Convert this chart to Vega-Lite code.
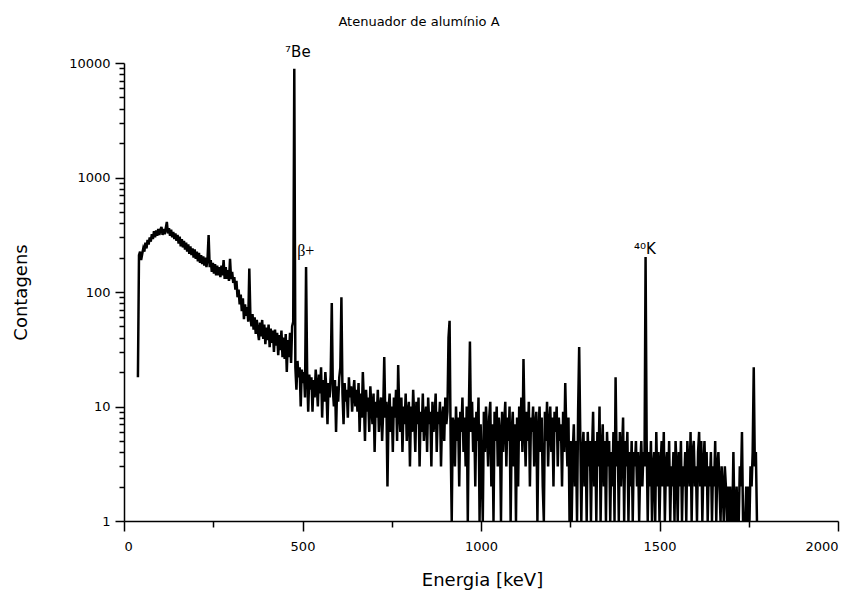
{
"$schema":"https://vega.github.io/schema/vega-lite/v6.json",
"width":714,"height":458,
"autosize":{"type":"none"},
"padding":{"left":124,"top":63,"right":24,"bottom":78},
"background":"white",
"title":{"text":"Atenuador de alumínio A","anchor":"middle","dx":-62,"offset":16,"fontSize":13,"fontWeight":"normal","font":"DejaVu Sans","color":"black"},
"config":{
"view":{"stroke":null},
"axis":{"grid":false,"domainColor":"black","domainWidth":1.5,"tickColor":"black","tickWidth":1.5,"labelFont":"DejaVu Sans","labelFontSize":13,"labelColor":"black","labelOverlap":false,"titleFont":"DejaVu Sans","titleFontSize":18,"titleFontWeight":"normal","titleColor":"black"}
},
"layer":[
{
"data":{"values":[
{"e":39,"c":18},{"e":42,"c":210},{"e":45,"c":225},{"e":48,"c":190},{"e":51,"c":215},{"e":54,"c":240},{"e":57,"c":225},{"e":60,"c":270},{"e":63,"c":240},{"e":66,"c":285},{"e":69,"c":260},{"e":72,"c":300},{"e":75,"c":275},{"e":78,"c":320},{"e":81,"c":290},{"e":84,"c":340},{"e":87,"c":300},{"e":90,"c":345},{"e":93,"c":310},{"e":96,"c":355},{"e":99,"c":315},{"e":102,"c":350},{"e":105,"c":370},{"e":108,"c":315},{"e":111,"c":355},{"e":114,"c":320},{"e":117,"c":360},{"e":120,"c":410},
{"e":123,"c":325},{"e":126,"c":360},{"e":129,"c":310},{"e":132,"c":350},{"e":135,"c":300},{"e":138,"c":335},{"e":141,"c":290},{"e":144,"c":325},{"e":147,"c":280},{"e":150,"c":315},{"e":153,"c":265},{"e":156,"c":305},{"e":159,"c":250},{"e":162,"c":290},{"e":165,"c":245},{"e":168,"c":280},{"e":171,"c":235},{"e":174,"c":270},{"e":177,"c":225},{"e":180,"c":260},{"e":183,"c":215},{"e":186,"c":250},{"e":189,"c":210},{"e":192,"c":240},{"e":195,"c":200},{"e":198,"c":235},{"e":201,"c":195},{"e":204,"c":225},{"e":207,"c":185},{"e":210,"c":220},{"e":213,"c":180},{"e":216,"c":210},{"e":219,"c":175},{"e":222,"c":205},{"e":225,"c":170},{"e":228,"c":200},{"e":231,"c":165},{"e":234,"c":195},{"e":237,"c":315},{"e":240,"c":165},
{"e":243,"c":190},{"e":246,"c":150},{"e":249,"c":180},{"e":252,"c":145},{"e":255,"c":175},{"e":258,"c":140},{"e":261,"c":170},{"e":264,"c":140},{"e":267,"c":165},{"e":270,"c":135},{"e":273,"c":170},{"e":276,"c":140},{"e":279,"c":190},{"e":282,"c":130},{"e":285,"c":165},{"e":288,"c":130},{"e":291,"c":155},{"e":294,"c":125},{"e":297,"c":195},{"e":300,"c":130},{"e":303,"c":150},{"e":306,"c":120},{"e":309,"c":135},{"e":312,"c":105},{"e":315,"c":125},{"e":318,"c":90},{"e":321,"c":105},{"e":324,"c":78},{"e":327,"c":95},{"e":330,"c":68},{"e":333,"c":88},{"e":336,"c":58},{"e":339,"c":78},{"e":342,"c":62},{"e":345,"c":74},{"e":348,"c":55},{"e":351,"c":160},{"e":354,"c":62},{"e":357,"c":50},
{"e":360,"c":64},{"e":363,"c":47},{"e":366,"c":60},{"e":369,"c":43},{"e":372,"c":57},{"e":375,"c":45},{"e":378,"c":38},{"e":381,"c":54},{"e":384,"c":41},{"e":387,"c":57},{"e":390,"c":39},{"e":393,"c":52},{"e":396,"c":35},{"e":399,"c":49},{"e":402,"c":38},{"e":405,"c":52},{"e":408,"c":33},{"e":411,"c":48},{"e":414,"c":36},{"e":417,"c":46},{"e":420,"c":30},{"e":423,"c":47},{"e":426,"c":34},{"e":429,"c":44},{"e":432,"c":28},{"e":435,"c":42},{"e":438,"c":31},{"e":441,"c":46},{"e":444,"c":27},{"e":447,"c":40},{"e":450,"c":26},{"e":453,"c":43},{"e":456,"c":20},{"e":459,"c":38},{"e":462,"c":27},{"e":465,"c":44},{"e":468,"c":24},{"e":471,"c":50},{"e":474,"c":55},{"e":477,"c":8900},{"e":480,"c":22},
{"e":483,"c":14},{"e":486,"c":25},{"e":489,"c":18},{"e":492,"c":22},{"e":495,"c":10},{"e":498,"c":21},{"e":501,"c":16},{"e":504,"c":20},{"e":507,"c":12},{"e":510,"c":165},{"e":513,"c":20},{"e":516,"c":9},{"e":519,"c":19},{"e":522,"c":14},{"e":525,"c":18},{"e":528,"c":9},{"e":531,"c":17},{"e":534,"c":12},{"e":537,"c":21},{"e":540,"c":15},{"e":543,"c":10},{"e":546,"c":19},{"e":549,"c":13},{"e":552,"c":22},{"e":555,"c":8},{"e":558,"c":17},{"e":561,"c":11},{"e":564,"c":20},{"e":567,"c":14},{"e":570,"c":7},{"e":573,"c":16},{"e":576,"c":12},{"e":579,"c":19},{"e":582,"c":80},{"e":585,"c":14},{"e":588,"c":10},{"e":591,"c":17},{"e":594,"c":6},{"e":597,"c":15},{"e":600,"c":11},{"e":603,"c":18},{"e":606,"c":22},{"e":609,"c":90},{"e":612,"c":13},{"e":615,"c":7},{"e":618,"c":16},{"e":621,"c":11},{"e":624,"c":14},{"e":627,"c":8},{"e":630,"c":18},{"e":633,"c":12},{"e":636,"c":15},{"e":639,"c":9},{"e":642,"c":13},{"e":645,"c":17},{"e":648,"c":10},{"e":651,"c":14},
{"e":654,"c":9},{"e":657,"c":16},{"e":660,"c":6},{"e":663,"c":13},{"e":666,"c":8},{"e":669,"c":20},{"e":672,"c":11},{"e":675,"c":5},{"e":678,"c":14},{"e":681,"c":9},{"e":684,"c":12},{"e":687,"c":6},{"e":690,"c":15},{"e":693,"c":10},{"e":696,"c":7},{"e":699,"c":13},{"e":702,"c":4},{"e":705,"c":11},{"e":708,"c":8},{"e":711,"c":14},{"e":714,"c":6},{"e":717,"c":10},{"e":720,"c":12},{"e":723,"c":5},{"e":726,"c":9},{"e":729,"c":27},{"e":732,"c":8},{"e":735,"c":11},{"e":738,"c":2},{"e":741,"c":9},{"e":744,"c":13},{"e":747,"c":6},{"e":750,"c":10},{"e":753,"c":4},{"e":756,"c":12},{"e":759,"c":8},{"e":762,"c":14},{"e":765,"c":5},{"e":768,"c":23},{"e":771,"c":9},{"e":774,"c":6},{"e":777,"c":12},{"e":780,"c":4},{"e":783,"c":10},{"e":786,"c":7},{"e":789,"c":13},{"e":792,"c":5},{"e":795,"c":9},{"e":798,"c":11},{"e":801,"c":3},{"e":804,"c":10},{"e":807,"c":6},{"e":810,"c":14},{"e":813,"c":8},{"e":816,"c":4},{"e":819,"c":11},{"e":822,"c":7},{"e":825,"c":12},{"e":828,"c":3},{"e":831,"c":9},{"e":834,"c":6},{"e":837,"c":13},{"e":840,"c":5},{"e":843,"c":8},{"e":846,"c":10},{"e":849,"c":4},{"e":852,"c":12},{"e":855,"c":7},{"e":858,"c":9},{"e":861,"c":3},{"e":864,"c":11},{"e":867,"c":6},{"e":870,"c":8},{"e":873,"c":13},{"e":876,"c":4},{"e":879,"c":9},{"e":882,"c":7},{"e":885,"c":11},{"e":888,"c":3},{"e":891,"c":8},{"e":894,"c":10},{"e":897,"c":5},{"e":900,"c":12},{"e":903,"c":7},{"e":906,"c":9},{"e":909,"c":40},{"e":912,"c":56},{"e":915,"c":5},{"e":918,"c":1},{"e":921,"c":8},
{"e":924,"c":7},{"e":927,"c":3},{"e":930,"c":10},{"e":933,"c":5},{"e":936,"c":8},{"e":939,"c":2},{"e":942,"c":9},{"e":945,"c":6},{"e":948,"c":12},{"e":951,"c":4},{"e":954,"c":8},{"e":957,"c":3},{"e":960,"c":10},{"e":963,"c":1},{"e":966,"c":9},{"e":969,"c":37},{"e":972,"c":6},{"e":975,"c":11},{"e":978,"c":4},{"e":981,"c":8},{"e":984,"c":2},{"e":987,"c":9},{"e":990,"c":5},{"e":993,"c":12},{"e":996,"c":1},{"e":999,"c":7},{"e":1002,"c":3},{"e":1005,"c":1},{"e":1008,"c":9},{"e":1011,"c":4},{"e":1014,"c":10},{"e":1017,"c":6},{"e":1020,"c":3},{"e":1023,"c":8},{"e":1026,"c":11},{"e":1029,"c":2},{"e":1032,"c":7},{"e":1035,"c":1},{"e":1038,"c":9},{"e":1041,"c":5},{"e":1044,"c":10},{"e":1047,"c":3},{"e":1050,"c":8},{"e":1053,"c":6},{"e":1056,"c":1},{"e":1059,"c":9},{"e":1062,"c":4},{"e":1065,"c":7},{"e":1068,"c":11},{"e":1071,"c":3},{"e":1074,"c":8},{"e":1077,"c":5},{"e":1080,"c":10},{"e":1083,"c":1},{"e":1086,"c":6},{"e":1089,"c":9},{"e":1092,"c":3},{"e":1095,"c":7},{"e":1098,"c":1},{"e":1101,"c":8},{"e":1104,"c":2},{"e":1107,"c":10},{"e":1110,"c":5},{"e":1113,"c":12},{"e":1116,"c":4},{"e":1119,"c":26},{"e":1122,"c":7},{"e":1125,"c":3},{"e":1128,"c":9},{"e":1131,"c":5},{"e":1134,"c":11},{"e":1137,"c":2},{"e":1140,"c":8},{"e":1143,"c":6},{"e":1146,"c":10},{"e":1149,"c":3},{"e":1152,"c":7},{"e":1155,"c":9},{"e":1158,"c":1},{"e":1161,"c":6},{"e":1164,"c":10},{"e":1167,"c":4},{"e":1170,"c":8},{"e":1173,"c":2},{"e":1176,"c":1},{"e":1179,"c":9},{"e":1182,"c":5},{"e":1185,"c":11},{"e":1188,"c":3},{"e":1191,"c":7},{"e":1194,"c":10},{"e":1197,"c":4},{"e":1200,"c":8},{"e":1203,"c":2},{"e":1206,"c":9},{"e":1209,"c":6},{"e":1212,"c":10},{"e":1215,"c":3},{"e":1218,"c":8},{"e":1221,"c":5},{"e":1224,"c":7},{"e":1227,"c":2},{"e":1230,"c":9},{"e":1233,"c":4},{"e":1236,"c":16},{"e":1239,"c":6},{"e":1242,"c":3},{"e":1245,"c":8},{"e":1248,"c":1},{"e":1251,"c":5},
{"e":1254,"c":1},{"e":1257,"c":4},{"e":1260,"c":7},{"e":1263,"c":2},{"e":1266,"c":5},{"e":1269,"c":1},{"e":1272,"c":9},{"e":1275,"c":33},{"e":1278,"c":6},{"e":1281,"c":1},{"e":1284,"c":4},{"e":1287,"c":6},{"e":1290,"c":2},{"e":1293,"c":5},{"e":1296,"c":1},{"e":1299,"c":6},{"e":1302,"c":3},{"e":1305,"c":5},{"e":1308,"c":1},{"e":1311,"c":4},{"e":1314,"c":9},{"e":1317,"c":2},{"e":1320,"c":5},{"e":1323,"c":1},{"e":1326,"c":6},{"e":1329,"c":3},{"e":1332,"c":10},{"e":1335,"c":1},{"e":1338,"c":4},{"e":1341,"c":7},{"e":1344,"c":2},{"e":1347,"c":5},{"e":1350,"c":1},{"e":1353,"c":6},{"e":1356,"c":3},{"e":1359,"c":5},{"e":1362,"c":1},{"e":1365,"c":4},{"e":1368,"c":2},{"e":1371,"c":6},{"e":1374,"c":1},{"e":1377,"c":18},{"e":1380,"c":3},{"e":1383,"c":5},{"e":1386,"c":1},{"e":1389,"c":6},{"e":1392,"c":2},{"e":1395,"c":4},{"e":1398,"c":8},{"e":1401,"c":1},{"e":1404,"c":5},{"e":1407,"c":3},{"e":1410,"c":6},{"e":1413,"c":1},{"e":1416,"c":4},{"e":1419,"c":2},{"e":1422,"c":5},{"e":1425,"c":1},{"e":1428,"c":4},{"e":1431,"c":3},{"e":1434,"c":5},{"e":1437,"c":2},{"e":1440,"c":4},{"e":1443,"c":1},{"e":1446,"c":3},{"e":1449,"c":5},{"e":1452,"c":2},{"e":1455,"c":4},{"e":1458,"c":3},{"e":1461,"c":202},{"e":1464,"c":5},{"e":1467,"c":1},
{"e":1470,"c":4},{"e":1473,"c":2},{"e":1476,"c":5},{"e":1479,"c":1},{"e":1482,"c":3},{"e":1485,"c":4},{"e":1488,"c":1},{"e":1491,"c":6},{"e":1494,"c":2},{"e":1497,"c":4},{"e":1500,"c":1},{"e":1503,"c":3},{"e":1506,"c":5},{"e":1509,"c":2},{"e":1512,"c":6},{"e":1515,"c":1},{"e":1518,"c":3},{"e":1521,"c":4},{"e":1524,"c":2},{"e":1527,"c":5},{"e":1530,"c":1},{"e":1533,"c":3},{"e":1536,"c":2},{"e":1539,"c":4},{"e":1542,"c":1},{"e":1545,"c":5},{"e":1548,"c":3},{"e":1551,"c":1},{"e":1554,"c":4},{"e":1557,"c":2},{"e":1560,"c":5},{"e":1563,"c":1},{"e":1566,"c":3},{"e":1569,"c":2},{"e":1572,"c":4},{"e":1575,"c":1},{"e":1578,"c":5},{"e":1581,"c":3},{"e":1584,"c":2},{"e":1587,"c":6},{"e":1590,"c":1},{"e":1593,"c":4},{"e":1596,"c":5},{"e":1599,"c":2},{"e":1602,"c":3},{"e":1605,"c":1},{"e":1608,"c":4},{"e":1611,"c":6},{"e":1614,"c":2},{"e":1617,"c":5},{"e":1620,"c":1},{"e":1623,"c":3},{"e":1626,"c":5},{"e":1629,"c":2},{"e":1632,"c":4},{"e":1635,"c":1},{"e":1638,"c":3},{"e":1641,"c":2},{"e":1644,"c":4},{"e":1647,"c":1},{"e":1650,"c":3},{"e":1653,"c":2},{"e":1656,"c":5},{"e":1659,"c":1},{"e":1662,"c":3},{"e":1665,"c":4},{"e":1668,"c":2},{"e":1671,"c":1},{"e":1674,"c":3},{"e":1677,"c":2},{"e":1680,"c":1},{"e":1683,"c":3},{"e":1686,"c":2},{"e":1689,"c":1},{"e":1692,"c":2},{"e":1695,"c":1},{"e":1698,"c":2},{"e":1701,"c":1},{"e":1704,"c":1},{"e":1707,"c":4},{"e":1710,"c":1},{"e":1713,"c":1},{"e":1716,"c":2},{"e":1719,"c":1},{"e":1722,"c":1},{"e":1725,"c":3},{"e":1728,"c":2},{"e":1731,"c":6},{"e":1734,"c":1},{"e":1737,"c":1},{"e":1740,"c":1},{"e":1743,"c":2},{"e":1746,"c":1},{"e":1749,"c":2},{"e":1752,"c":1},{"e":1755,"c":3},{"e":1758,"c":2},{"e":1761,"c":4},{"e":1764,"c":22},{"e":1767,"c":3},{"e":1770,"c":4},{"e":1773,"c":1}
]},
"mark":{"type":"line","color":"black","strokeWidth":2.5,"clip":true},
"encoding":{
"x":{"field":"e","type":"quantitative","scale":{"domain":[0,2000],"nice":false,"zero":false},"axis":{"orient":"bottom","values":[0,250,500,750,1000,1250,1500,1750,2000],"labelExpr":"datum.value % 500 == 0 ? format(datum.value, 'd') : ''","tickSize":{"condition":{"test":"datum.value % 500 == 0","value":10},"value":6},"labelPadding":9,"title":"Energia [keV]","titleX":358,"titleY":59,"titleAlign":"center","titleBaseline":"middle"}},
"y":{"field":"c","type":"quantitative","scale":{"type":"log","domain":[1,10000],"nice":false},"axis":{"orient":"left","tickCount":100,"values":[1,2,3,4,5,6,7,8,9,10,20,30,40,50,60,70,80,90,100,200,300,400,500,600,700,800,900,1000,2000,3000,4000,5000,6000,7000,8000,9000,10000],"labelExpr":"(datum.value == 1 || datum.value == 10 || datum.value == 100 || datum.value == 1000 || datum.value == 10000) ? format(datum.value, 'd') : ''","tickSize":{"condition":{"test":"datum.value == 1 || datum.value == 10 || datum.value == 100 || datum.value == 1000 || datum.value == 10000","value":9},"value":5},"labelPadding":5,"title":"Contagens","titleX":-103,"titleY":229,"titleAlign":"center","titleBaseline":"middle","titleAngle":-90}}
}
},
{
"data":{"values":[{"e":487,"c":12480,"t":"⁷Be"},{"e":1459,"c":238,"t":"⁴⁰K"}]},
"mark":{"type":"text","font":"DejaVu Sans","fontSize":15,"color":"black","align":"center","baseline":"middle"},
"encoding":{
"x":{"field":"e","type":"quantitative"},
"y":{"field":"c","type":"quantitative"},
"text":{"field":"t"}
}
},
{
"data":{"values":[{"e":485,"c":228,"t":"β+"}]},
"mark":{"type":"text","font":"Liberation Serif","fontSize":16,"color":"black","align":"left","baseline":"middle"},
"encoding":{
"x":{"field":"e","type":"quantitative"},
"y":{"field":"c","type":"quantitative"},
"text":{"field":"t"}
}
}
]
}
